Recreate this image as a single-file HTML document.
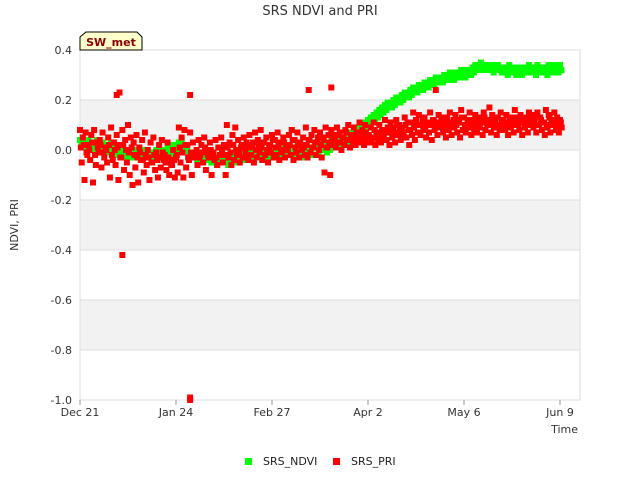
<!DOCTYPE html>
<html><head><meta charset="utf-8"><style>
body{margin:0;background:#fff;font-family:"Liberation Sans","DejaVu Sans",sans-serif}
svg{display:block}
text{font-family:"DejaVu Sans","Liberation Sans",sans-serif}
</style></head><body>
<svg id="chart" width="640" height="480">
<text x="320" y="15" text-anchor="middle" font-size="13" fill="#333">SRS NDVI and PRI</text>
<g id="bands"></g>
<g id="grid"></g>
<rect x="80" y="50" width="500" height="350" fill="none" stroke="#ddd"/>
<g id="ndvi"></g>
<g id="pri"></g>
<g id="yticks"></g><g id="xticks"></g>
<text transform="translate(18,225) rotate(-90)" text-anchor="middle" font-size="11" fill="#333">NDVI, PRI</text>
<text x="578" y="433" text-anchor="end" font-size="11" fill="#333">Time</text>
<g>
<path d="M86,32 L137,32 L142,37 L142,50 L80,50 L80,37 Z" fill="#ffffcc" stroke="#000" stroke-width="1"/>
<text x="111" y="46" text-anchor="middle" font-size="11" font-weight="bold" fill="#8b0000">SW_met</text>
</g>
<g>
<g><rect x="245" y="458" width="7" height="7" fill="#00ff00"/><text x="263" y="465" font-size="11" fill="#222">SRS_NDVI</text></g>
<g><rect x="333" y="458" width="7" height="7" fill="#ff0000"/><text x="351" y="465" font-size="11" fill="#222">SRS_PRI</text></g>
</g>
</svg>
<script>
const yTicks=[0.4,0.2,0.0,-0.2,-0.4,-0.6,-0.8,-1.0];
const xTickLabels=["Dec 21","Jan 24","Feb 27","Apr 2","May 6","Jun 9"];
const xTickDays=[0,34,68,102,136,170];
const ndviVals=[.03,.04,.02,.03,.01,.02,.03,.01,.02,.00,
.01,.02,.00,-.01,.01,.00,-.02,-.01,-.02,-.01,
-.02,-.03,-.02,-.01,-.02,-.03,-.02,-.01,-.02,-.01,
-.01,.00,-.01,.01,.00,.02,.03,.01,-.01,-.02,
-.02,-.03,-.02,-.04,-.03,-.02,-.04,-.03,-.05,-.04,
-.03,-.04,-.05,-.03,-.02,-.04,-.03,-.02,-.03,-.02,
-.02,-.03,-.01,-.02,-.03,-.01,-.02,-.01,-.02,.00,
-.01,.00,-.01,.00,.01,-.01,.00,.01,-.02,.00,
.01,.00,-.01,.02,.00,.01,.02,.00,.01,.03,
.02,.03,.03,.04,.04,.05,.06,.07,.07,.08,
.09,.10,.11,.12,.13,.14,.15,.16,.17,.18,
.18,.19,.20,.20,.21,.22,.22,.23,.24,.24,
.25,.25,.26,.26,.27,.27,.28,.28,.28,.29,
.29,.30,.29,.30,.30,.31,.30,.31,.31,.32,
.33,.33,.34,.33,.33,.33,.32,.33,.33,.32,
.32,.31,.33,.32,.31,.32,.31,.32,.32,.33,
.32,.31,.33,.32,.32,.31,.33,.32,.33,.32,.33];
const ndviVals2=ndviVals.map(v=>v); // second sensor reading identical trend
const priA=[.08,.05,.07,.02,.06,.08,.03,.04,.07,.01,
.05,.09,.03,.06,.02,.08,.04,.10,.05,.03,
.06,.01,.04,.07,.00,.03,.05,-.01,.02,.04,
-.02,.03,-.04,.00,-.03,.09,.05,.08,.02,.07,
.03,-.01,.04,.02,.05,.00,.03,-.02,.04,.01,
.05,.02,.10,.03,.06,.09,.04,.01,.05,.03,
.06,.02,.07,.04,.08,.03,.05,.01,.06,.04,
.07,.03,.05,.02,.06,.08,.04,.07,.03,.05,
.09,.04,.06,.08,.03,.07,.05,.09,.06,.08,
.06,.09,.07,.05,.08,.10,.06,.09,.07,.11,
.08,.10,.06,.09,.11,.07,.10,.08,.12,.09,
.11,.08,.12,.10,.09,.13,.11,.08,.15,.12,
.14,.10,.13,.11,.15,.12,.09,.14,.13,.11,
.13,.15,.11,.14,.12,.16,.13,.10,.15,.12,
.14,.11,.13,.15,.12,.17,.14,.11,.13,.15,
.12,.14,.11,.13,.16,.12,.14,.11,.13,.15,
.14,.12,.15,.13,.11,.16,.14,.12,.15,.13,.12];
const priB=[-.05,-.12,-.02,-.04,-.13,-.06,-.01,-.07,-.03,-.05,
-.11,-.04,-.06,-.12,-.03,-.08,-.05,-.10,-.14,-.07,
-.13,-.04,-.09,-.06,-.12,-.05,-.08,-.11,-.07,-.04,
-.08,-.10,-.06,-.11,-.09,-.05,-.11,-.07,-.04,-.10,
-.03,-.06,-.02,-.05,-.08,-.03,-.10,-.04,-.06,-.02,
-.05,-.10,-.03,-.06,-.04,-.02,-.05,-.03,-.01,-.04,
-.02,-.05,-.03,-.01,-.04,-.02,-.05,-.01,-.03,-.02,
-.04,-.01,-.03,.00,-.02,-.04,-.01,-.03,.00,-.02,
-.03,-.01,.01,-.02,.00,-.03,-.09,.01,-.10,.02,
.01,.03,.00,.02,.04,.01,.03,.02,.04,.03,
.02,.04,.03,.05,.02,.04,.03,.06,.04,.02,
.05,.03,.06,.04,.07,.05,.02,.06,.04,.07,
.06,.08,.05,.07,.04,.08,.06,.09,.07,.05,
.08,.06,.09,.07,.05,.08,.07,.09,.06,.08,
.07,.09,.06,.08,.10,.07,.09,.06,.08,.10,
.08,.06,.09,.07,.10,.08,.06,.09,.07,.10,
.09,.07,.10,.08,.06,.09,.07,.10,.08,.07,.09];
const priC=[.01,.02,-.01,.00,.03,-.02,.01,.02,-.01,.00,
.02,-.02,.00,.01,-.03,.02,.00,-.01,.01,-.02,
-.03,-.01,-.04,-.02,-.03,-.05,-.02,-.04,-.03,-.01,
-.05,-.03,-.06,-.04,-.02,.01,-.01,.02,-.03,-.01,
-.02,.00,-.03,-.01,.01,-.02,.00,-.01,-.03,.01,
.00,-.02,.01,-.01,.02,.00,-.01,.02,.01,-.02,
.01,.03,.00,.02,.01,.03,.00,.02,.04,.01,
.02,.00,.03,.01,.02,.04,.01,.03,.02,.01,
.02,.04,.01,.03,.05,.02,.04,.01,.03,.05,
.04,.06,.03,.05,.07,.04,.06,.05,.07,.06,
.05,.07,.06,.04,.08,.06,.07,.05,.08,.07,
.09,.07,.10,.08,.06,.10,.08,.11,.09,.10,
.10,.12,.09,.11,.10,.12,.11,.10,.12,.09,
.11,.10,.12,.10,.11,.13,.10,.12,.11,.10,
.12,.10,.11,.13,.10,.12,.11,.13,.10,.12,
.11,.10,.12,.11,.13,.10,.12,.11,.10,.12,
.11,.13,.10,.12,.11,.10,.13,.11,.12,.10,.11];
const outlierDays=[13,14,15,39,39,39,81,89,126];
const outlierVals=[.22,.23,-.42,.22,-1.0,-.99,.24,.25,.24];

const NS="http://www.w3.org/2000/svg";
const x=d=>80+d*96/34;
const y=v=>150-v*250;
const bands=document.getElementById('bands');
[[0.2,0],[-0.2,-0.4],[-0.6,-0.8]].forEach(b=>{
  const r=document.createElementNS(NS,'rect');
  r.setAttribute('x',80);r.setAttribute('y',y(b[0]));r.setAttribute('width',500);r.setAttribute('height',y(b[1])-y(b[0]));r.setAttribute('fill','#f2f2f2');
  
  
  bands.appendChild(r);
});
const grid=document.getElementById('grid'),yt=document.getElementById('yticks'),xt=document.getElementById('xticks');
yTicks.forEach(v=>{
  const l=document.createElementNS(NS,'line');
  l.setAttribute('x1',80);l.setAttribute('x2',580);l.setAttribute('y1',y(v));l.setAttribute('y2',y(v));l.setAttribute('stroke','#ddd');
  
  
  grid.appendChild(l);
  const t=document.createElementNS(NS,'text');
  t.setAttribute('x',72);t.setAttribute('y',y(v)+4);t.setAttribute('text-anchor','end');t.setAttribute('font-size','11');t.setAttribute('fill','#333');
  t.textContent=v.toFixed(1);
  
  
  yt.appendChild(t);
});
xTickDays.forEach((d,i)=>{
  const l=document.createElementNS(NS,'line');
  l.setAttribute('x1',x(d));l.setAttribute('x2',x(d));l.setAttribute('y1',400);l.setAttribute('y2',405);l.setAttribute('stroke','#999');
  
  
  xt.appendChild(l);
  const t=document.createElementNS(NS,'text');
  t.setAttribute('x',x(d));t.setAttribute('y',416);t.setAttribute('text-anchor','middle');t.setAttribute('font-size','11');t.setAttribute('fill','#333');
  t.textContent=xTickLabels[i];
  
  
  xt.appendChild(t);
});
function pt(g,d,v,c,name){
  const r=document.createElementNS(NS,'rect');
  r.setAttribute('x',x(d)-3);r.setAttribute('y',y(v)-3);r.setAttribute('width',6);r.setAttribute('height',6);r.setAttribute('fill',c);
  
  
  g.appendChild(r);
}
const gN=document.getElementById('ndvi'),gP=document.getElementById('pri');
ndviVals.forEach((v,d)=>{pt(gN,d,v+0.01,'#00ff00','ndvi-point');pt(gN,d+0.5,ndviVals2[d]-0.01,'#00ff00','ndvi-point');});
priC.forEach((v,d)=>pt(gP,d+0.3,v,'#ff0000','pri-point'));
priA.forEach((v,d)=>pt(gP,d,v,'#ff0000','pri-point'));
priB.forEach((v,d)=>pt(gP,d+0.6,v,'#ff0000','pri-point'));
outlierDays.forEach((d,i)=>pt(gP,d,outlierVals[i],'#ff0000','pri-outlier'));
</script>
</body></html>
